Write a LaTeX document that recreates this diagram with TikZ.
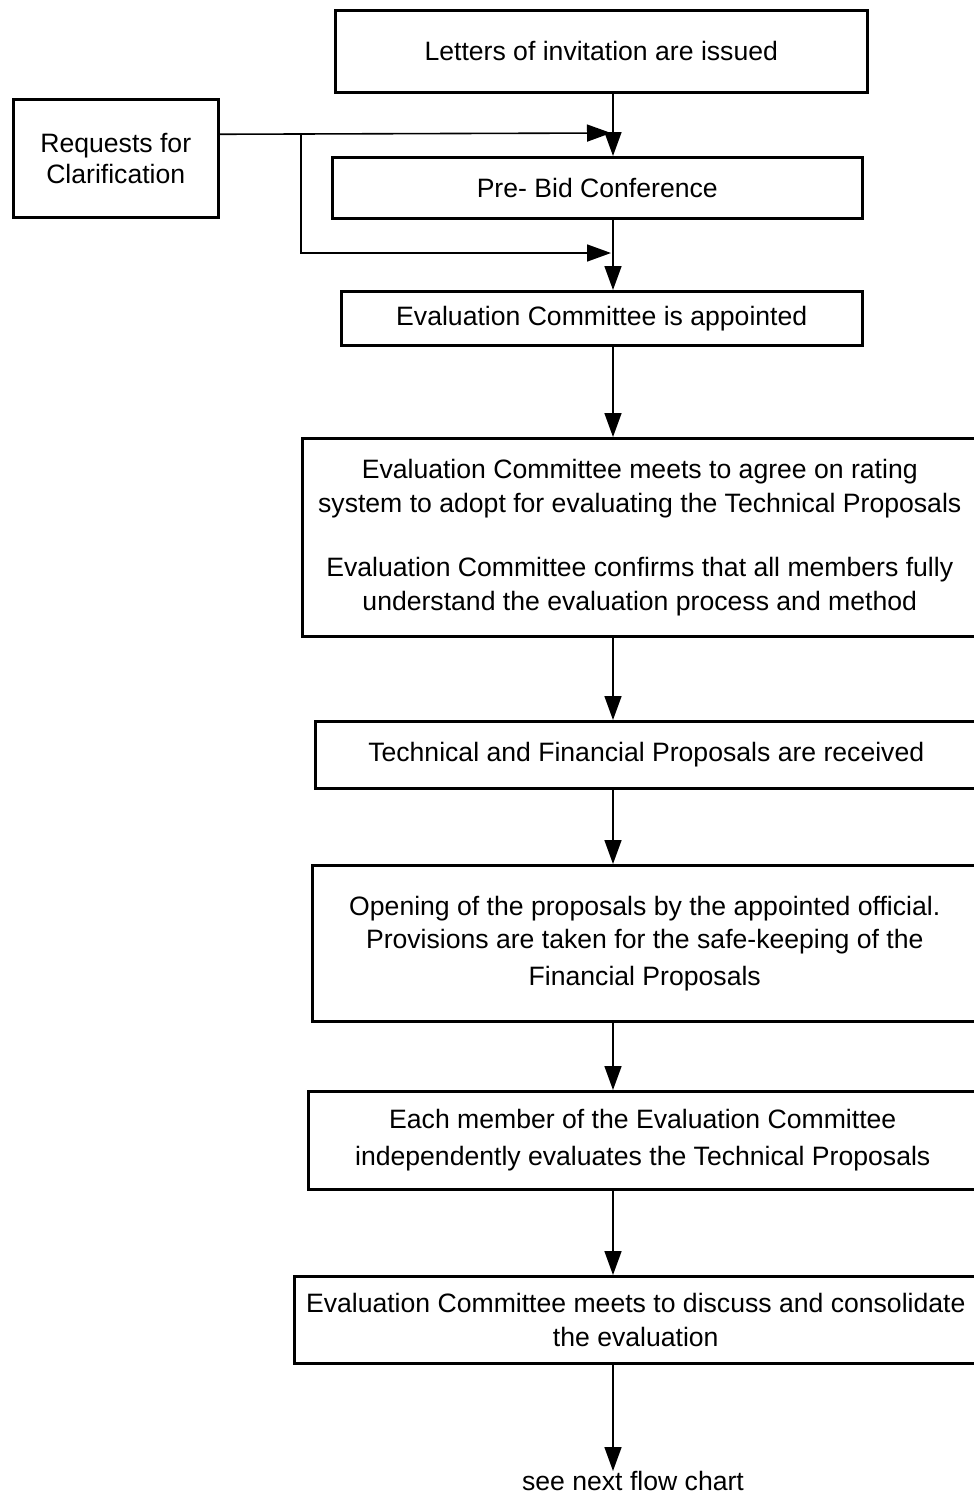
\documentclass[tikz,border=0pt]{standalone}
\usepackage{fontspec}
\setmainfont{Liberation Sans}
\usetikzlibrary{arrows.meta,positioning}

\begin{document}
\begin{tikzpicture}[x=1pt,y=-1pt,
    box/.style={draw,line width=2.5pt,anchor=north west,align=center,inner sep=0pt},
    arr/.style={line width=1.6pt,-{Triangle[length=24pt,width=17pt]}},
    font=\fontsize{26.6}{34}\selectfont]

    \clip (0,0) rectangle (974,1497);
    \coordinate (spine) at (613,0);

    \node[box,minimum width=532,minimum height=82] (letters) at (334,9) {Letters of invitation are issued};
    \node[box,minimum width=205,minimum height=118] (requests) at (12,98) {Requests for\\[-3pt]Clarification};
    \node[box,minimum width=530,minimum height=61] (prebid) at (331,156) {Pre- Bid Conference};
    \node[box,minimum width=521,minimum height=54] (appointed) at (340,290) {Evaluation Committee is appointed};
    \node[box,minimum width=675,minimum height=198] (agree) at (301,437) {Evaluation Committee meets to agree on rating\\system to adopt for evaluating the Technical Proposals\\[30pt]Evaluation Committee confirms that all members fully\\understand the evaluation process and method};
    \node[box,minimum width=662,minimum height=67] (received) at (314,720) {Technical and Financial Proposals are received};
    \node[box,minimum width=665,minimum height=156] (opening) at (311,864) {Opening of the proposals by the appointed official.\\[-1pt]Provisions are taken for the safe-keeping of the\\[3pt]Financial Proposals};
    \node[box,minimum width=669,minimum height=98] (individual) at (307,1090) {Each member of the Evaluation Committee\\[3pt]independently evaluates the Technical Proposals};
    \node[box,minimum width=683,minimum height=87] (consolidate) at (293,1275) {Evaluation Committee meets to discuss and consolidate\\the evaluation};
    \node[anchor=north,inner sep=0pt] (nextchart) at (633,1471) {see next flow chart};

    \coordinate (j1) at (611,133);
    \coordinate (split) at (301,133);
    \coordinate (j2) at (611,253);

    \draw[arr] ([yshift=24pt]requests.east) -- (j1);
    \draw[arr] (split) |- (j2);

    \draw[arr] (letters.south -| spine) -- (prebid.north -| spine);
    \draw[arr] (prebid.south -| spine) -- (appointed.north -| spine);
    \draw[arr] (appointed.south -| spine) -- (agree.north -| spine);
    \draw[arr] (agree.south -| spine) -- (received.north -| spine);
    \draw[arr] (received.south -| spine) -- (opening.north -| spine);
    \draw[arr] (opening.south -| spine) -- (individual.north -| spine);
    \draw[arr] (individual.south -| spine) -- (consolidate.north -| spine);
    \draw[arr] (consolidate.south -| spine) -- (nextchart.north -| spine);

\end{tikzpicture}
\end{document}
